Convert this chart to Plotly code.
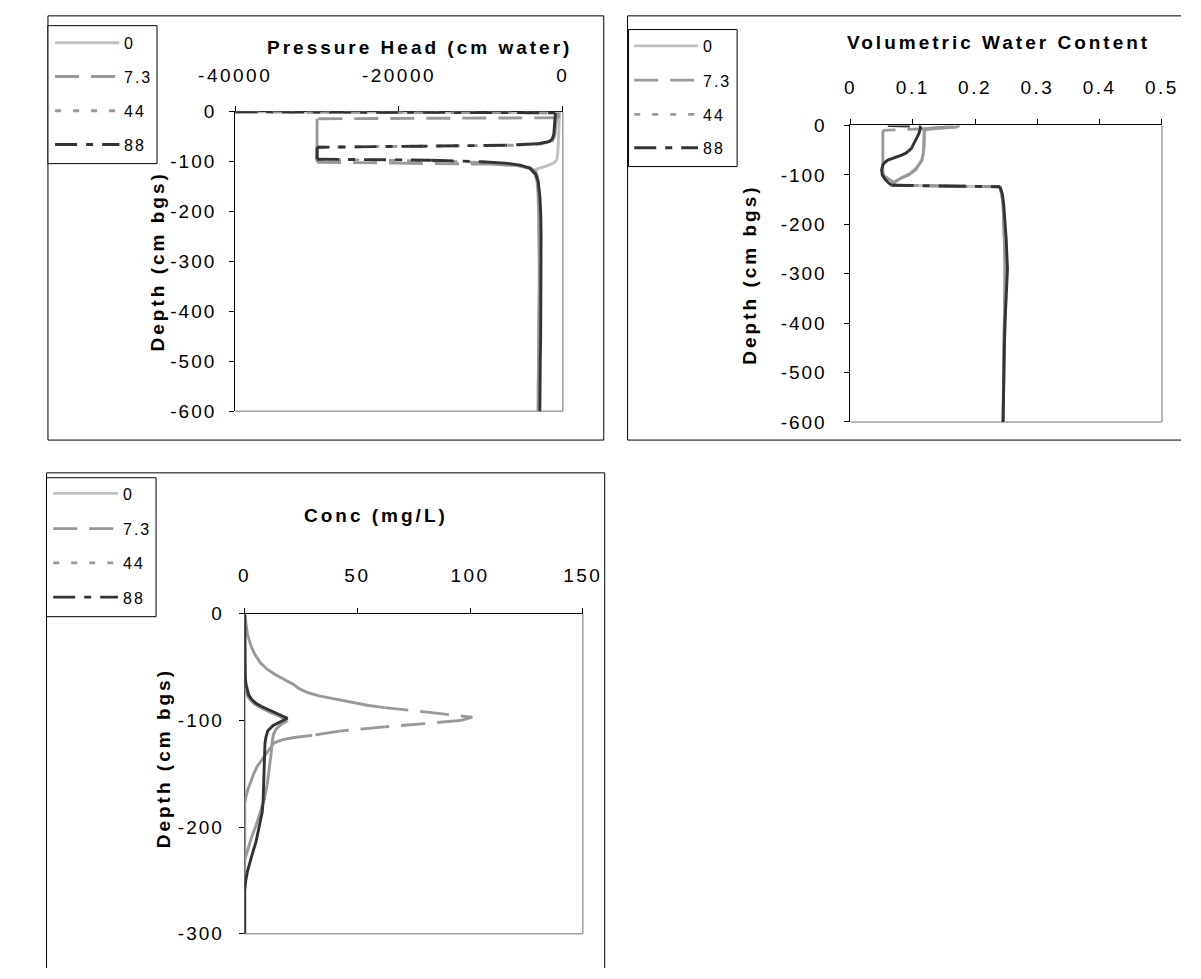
import math
import plotly.graph_objects as go

# ---------------- data ----------------
SERIES = ["0", "7.3", "44", "88"]

# Pressure head (cm water) against depth (cm bgs)
ph_depth_0 = [0, -2, -20, -50, -80, -95, -102, -107, -111, -115, -125, -150, -200, -250, -300, -350, -400, -450, -500, -550, -600]
ph_head_0 = [-40000, -400, -450, -500, -600, -700, -1000, -1700, -2500, -3200, -3300, -3100, -2950, -2900, -2900, -2900, -2900, -2950, -2950, -3000, -3000]

ph_depth_73 = [0, -2, -12, -14, -40, -70, -101, -103, -105, -108, -112, -118, -130, -160, -200, -250, -300, -350, -400, -450, -500, -550, -600]
ph_head_73 = [-40000, -500, -550, -30000, -30000, -30000, -30000, -20000, -9000, -5500, -4000, -3400, -3100, -2950, -2900, -2900, -2850, -2850, -2900, -2900, -2950, -2950, -3000]

ph_depth_44 = [0, -2, -25, -50, -58, -64, -67, -69, -71, -84, -96, -98, -101, -104, -108, -114, -125, -140, -170, -200, -250, -300, -350, -400, -450, -500, -550, -600]
ph_head_44 = [-40000, -700, -850, -1000, -1300, -2500, -6000, -18000, -30000, -30000, -30000, -18000, -11000, -7500, -5500, -4000, -3400, -3100, -2950, -2900, -2850, -2850, -2850, -2900, -2900, -2950, -3000, -3000]

ph_depth_88 = [0, -2, -25, -45, -55, -60, -64, -67, -69, -71, -83, -95, -97, -100, -103, -107, -113, -125, -140, -170, -200, -250, -300, -350, -400, -450, -500, -550, -600]
ph_head_88 = [-40000, -900, -1000, -1100, -1300, -1700, -3000, -7000, -17000, -30000, -30000, -30000, -16000, -10000, -7000, -5200, -4000, -3300, -3000, -2800, -2700, -2650, -2650, -2650, -2700, -2700, -2750, -2800, -2800]

# Volumetric water content against depth (cm bgs)
vwc_depth_0 = [0, -3, -6, -10, -20, -40, -56, -70, -80, -89, -96, -101, -106, -110, -114, -118, -121, -122.5, -124, -140, -160, -190, -230, -260, -290, -320, -360, -400, -450, -500, -550, -600]
vwc_0 = [0.175, 0.170, 0.140, 0.120, 0.119, 0.119, 0.117, 0.114, 0.109, 0.103, 0.096, 0.089, 0.080, 0.074, 0.070, 0.068, 0.068, 0.150, 0.240, 0.243, 0.245, 0.246, 0.247, 0.248, 0.248, 0.248, 0.248, 0.247, 0.246, 0.246, 0.245, 0.245]

vwc_depth_73 = [0, -3, -6, -10, -20, -40, -60, -80, -95, -102, -108, -113, -118, -121, -122.5, -124, -140, -160, -190, -230, -260, -290, -320, -360, -400, -450, -500, -550, -600]
vwc_73 = [0.175, 0.170, 0.130, 0.052, 0.052, 0.052, 0.052, 0.052, 0.052, 0.054, 0.062, 0.067, 0.070, 0.071, 0.150, 0.240, 0.243, 0.245, 0.246, 0.247, 0.248, 0.248, 0.248, 0.248, 0.247, 0.246, 0.246, 0.245, 0.245]

vwc_depth_44 = [0, -3, -6, -10, -20, -40, -56, -70, -80, -89, -96, -101, -106, -110, -114, -118, -121, -122.5, -124, -140, -160, -190, -230, -260, -290, -320, -360, -400, -450, -500, -550, -600]
vwc_44 = [0.165, 0.150, 0.125, 0.118, 0.118, 0.118, 0.117, 0.115, 0.110, 0.105, 0.098, 0.092, 0.082, 0.076, 0.072, 0.070, 0.069, 0.150, 0.240, 0.243, 0.245, 0.246, 0.247, 0.248, 0.249, 0.249, 0.249, 0.248, 0.247, 0.246, 0.245, 0.245]

vwc_depth_88 = [0, -2, -8, -16, -26, -36, -46, -52, -56, -60, -63, -67, -70, -75, -80, -90, -100, -108, -115, -121, -122.5, -124, -140, -160, -190, -230, -260, -290, -320, -360, -400, -450, -500, -550, -600]
vwc_88 = [0.060, 0.113, 0.112, 0.110, 0.106, 0.102, 0.098, 0.093, 0.089, 0.082, 0.075, 0.066, 0.060, 0.055, 0.052, 0.050, 0.051, 0.055, 0.060, 0.066, 0.150, 0.240, 0.244, 0.246, 0.248, 0.250, 0.251, 0.252, 0.251, 0.249, 0.248, 0.247, 0.246, 0.245, 0.245]

# Concentration (mg/L) against depth (cm bgs)
conc_depth_0 = [0, -25, -50, -75, -100, -125, -150, -175, -200, -225, -250, -275, -300]
conc_0 = [0, 0, 0, 0, 0, 0, 0, 0, 0, 0, 0, 0, 0]

conc_depth_73 = [0, -10, -20, -30, -38, -46, -52, -57, -61, -64, -66, -70, -74, -77, -80, -83, -86, -88, -92, -97, -100, -103, -106, -110, -114, -116, -118, -121, -124, -131, -137, -143, -150, -157, -165, -172, -178, -200, -225, -250, -275, -300]
conc_73 = [0, 0.5, 1.3, 2.8, 4.5, 7, 10, 13.5, 17, 20, 21.5, 24, 28, 33, 40, 47, 55, 62, 80, 101, 96, 80, 62, 42, 30, 22, 17, 13, 12, 9.5, 7.5, 5.6, 4.0, 2.7, 1.4, 0.5, 0, 0, 0, 0, 0, 0]

conc_depth_44 = [0, -25, -50, -65, -72, -78, -84, -89, -93, -96, -99, -101, -104, -108, -113, -120, -130, -145, -160, -175, -190, -200, -210, -218, -225, -231, -250, -275, -300]
conc_44 = [0, 0, 0, 0, 0.5, 1.5, 4, 8, 12, 15.5, 17.5, 18.5, 16, 14, 12.8, 12.2, 11.8, 11, 10, 8.6, 6.5, 4.8, 3.0, 1.8, 0.8, 0, 0, 0, 0]

conc_depth_88 = [0, -20, -40, -52, -60, -66, -72, -76, -80, -84, -87, -90, -93, -96, -98, -100, -102, -105, -110, -116, -122, -140, -162, -175, -186, -195, -204, -214, -223, -232, -241, -250, -259, -280, -300]
conc_88 = [0, 0, 0, 0, 0.3, 0.6, 1.2, 1.8, 3, 5, 7.5, 10.5, 13.5, 16.5, 19, 17, 15, 12.5, 10.2, 9.4, 9.0, 8.8, 8.6, 8.2, 7.8, 7.0, 6.2, 5.0, 3.7, 2.5, 1.3, 0.5, 0, 0, 0]

# tick labels
ph_ticks = [-40000, -20000, 0]
ph_tick_text = ["-40000", "-20000", "0"]
vwc_ticks = [0, 0.1, 0.2, 0.3, 0.4, 0.5]
vwc_tick_text = ["0", "0.1", "0.2", "0.3", "0.4", "0.5"]
conc_ticks = [0, 50, 100, 150]
conc_tick_text = ["0", "50", "100", "150"]
depth600_ticks = [0, -100, -200, -300, -400, -500, -600]
depth600_text = ["0", "-100", "-200", "-300", "-400", "-500", "-600"]
depth300_ticks = [0, -100, -200, -300]
depth300_text = ["0", "-100", "-200", "-300"]

# ---------------- styling ----------------
W, H = 1201, 979
FONT = "Liberation Sans, Arial, sans-serif"
LW = 2.9
DASH_MIN_PX = 28  # steps shorter than this render as solid strokes

STYLES = {
    "0": ("#c0c0c0", "solid"),
    "7.3": ("#999999", "24px,12px"),
    "44": ("#999999", "6px,12px"),
    "88": ("#333333", "22px,9px,7px,9px"),
}


def spaced(s, ls=3):
    return f'<span style="letter-spacing:{ls}px">{s}</span>'


def fx(px):
    return px / W


def fy(py):
    return 1 - py / H


# page-pixel geometry of each chart block
panels = [
    dict(xa="x", ya="y", xdom=(208, 552), ydom=(104, 410), xr=[-40000, 0], yr=[-600, 0],
         xt=(ph_ticks, ph_tick_text), yt=(depth600_ticks, depth600_text),
         xstand=16, ystand=9,
         data=[(ph_head_0, ph_depth_0), (ph_head_73, ph_depth_73), (ph_head_44, ph_depth_44), (ph_head_88, ph_depth_88)],
         title=("Pressure Head (cm water)", 402, 38), ytitle=(127, 257),
         frame=[(11.5, 6, 595, 6), (595, 6, 595, 439.5), (11.5, 439.5, 595, 439.5), (11.5, 6, 11.5, 439.5)],
         lbox=(11.5, 16, 126, 157), lrows=[33.5, 68, 103, 137.5], lline=(19, 86.5), ltext=89),
    dict(xa="x2", ya="y2", xdom=(854, 1181), ydom=(118, 421), xr=[0, 0.5], yr=[-600, 0],
         xt=(vwc_ticks, vwc_tick_text), yt=(depth600_ticks, depth600_text),
         xstand=18, ystand=14,
         data=[(vwc_0, vwc_depth_0), (vwc_73, vwc_depth_73), (vwc_44, vwc_depth_44), (vwc_88, vwc_depth_88)],
         title=("Volumetric Water Content", 1009, 33), ytitle=(748, 270),
         frame=[(620, 6, 1201, 6), (620, 439.5, 1201, 439.5), (620, 6, 620, 439.5)],
         lbox=(621, 20, 735, 160), lrows=[36.7, 71.7, 106.7, 140.7], lline=(627, 694), ltext=697),
    dict(xa="x3", ya="y3", xdom=(218, 573), ydom=(617, 944), xr=[0, 150], yr=[-300, 0],
         xt=(conc_ticks, conc_tick_text), yt=(depth300_ticks, depth300_text),
         xstand=18, ystand=11,
         data=[(conc_0, conc_depth_0), (conc_73, conc_depth_73), (conc_44, conc_depth_44), (conc_88, conc_depth_88)],
         title=("Conc (mg/L)", 356, 517), ytitle=(133, 765),
         frame=[(10, 473, 596, 473), (10, 473, 10, 979), (596, 473, 596, 979)],
         lbox=(10, 478, 125, 620), lrows=[494, 530, 565, 600], lline=(17, 85), ltext=88),
]

fig = go.Figure()
layout = dict(width=W, height=H, margin=dict(l=0, r=0, t=0, b=0), autosize=False,
              paper_bgcolor="white", plot_bgcolor="white", showlegend=False,
              shapes=[], annotations=[], hovermode=False)


def add_profile(p, name, xs, ys):
    color, dash = STYLES[name]
    sx = (p["xdom"][1] - p["xdom"][0]) / (p["xr"][1] - p["xr"][0])
    sy = (p["ydom"][1] - p["ydom"][0]) / (p["yr"][1] - p["yr"][0])
    run_x, run_y = [xs[0]], [ys[0]]

    def flush_solid():
        if len(run_x) > 1:
            fig.add_trace(go.Scatter(x=list(run_x), y=list(run_y), mode="lines", name=name,
                                     line=dict(color=color, width=LW, dash="solid"),
                                     xaxis=p["xa"], yaxis=p["ya"], hoverinfo="skip"))

    # long jumps between nodes keep the series dash pattern, short steps read as solid
    for i in range(len(xs) - 1):
        seg = math.hypot((xs[i + 1] - xs[i]) * sx, (ys[i + 1] - ys[i]) * sy)
        if seg > DASH_MIN_PX and dash != "solid":
            flush_solid()
            fig.add_trace(go.Scatter(x=[xs[i], xs[i + 1]], y=[ys[i], ys[i + 1]], mode="lines", name=name,
                                     line=dict(color=color, width=LW, dash=dash),
                                     xaxis=p["xa"], yaxis=p["ya"], hoverinfo="skip"))
            run_x, run_y = [xs[i + 1]], [ys[i + 1]]
        else:
            run_x.append(xs[i + 1])
            run_y.append(ys[i + 1])
    flush_solid()


for k, p in enumerate(panels):
    sfx = "" if k == 0 else str(k + 1)
    for name, (xs, ys) in zip(SERIES, p["data"]):
        add_profile(p, name, xs, ys)

    common = dict(showgrid=False, zeroline=False, showline=True, linecolor="black", linewidth=1,
                  ticks="outside", ticklen=5, tickwidth=1, tickcolor="black",
                  layer="below traces", fixedrange=True, tickmode="array",
                  tickfont=dict(family=FONT, size=19, color="black"))
    layout["xaxis" + sfx] = dict(common, domain=[fx(p["xdom"][0]), fx(p["xdom"][1])],
                                 range=p["xr"], side="top", anchor=p["ya"],
                                 tickvals=p["xt"][0], ticktext=[spaced(t, 2.5) for t in p["xt"][1]],
                                 ticklabelstandoff=p["xstand"])
    layout["yaxis" + sfx] = dict(common, domain=[fy(p["ydom"][1]), fy(p["ydom"][0])],
                                 range=p["yr"], side="left", anchor=p["xa"],
                                 tickvals=p["yt"][0], ticktext=[spaced(t, 2) for t in p["yt"][1]],
                                 ticklabelstandoff=p["ystand"])

    # plot-area border (right and bottom edges)
    for x0, y0, x1, y1 in [(1, 0, 1, 1), (0, 0, 1, 0)]:
        layout["shapes"].append(dict(type="line", xref=p["xa"] + " domain", yref=p["ya"] + " domain",
                                     x0=x0, y0=y0, x1=x1, y1=y1, layer="below",
                                     line=dict(color="#a0a0a0", width=1.5)))
    # chart frame
    for x0, y0, x1, y1 in p["frame"]:
        layout["shapes"].append(dict(type="line", xref="paper", yref="paper", x0=fx(x0), x1=fx(x1),
                                     y0=fy(y0), y1=fy(y1), line=dict(color="black", width=1), layer="below"))

    # legend: framed key with a line sample and label per series
    l, t, r, b = p["lbox"]
    layout["shapes"].append(dict(type="rect", xref="paper", yref="paper", x0=fx(l), x1=fx(r),
                                 y0=fy(b), y1=fy(t), line=dict(color="black", width=1),
                                 fillcolor="white", layer="above"))
    lx0, lx1 = p["lline"]
    for name, ry in zip(SERIES, p["lrows"]):
        color, dash = STYLES[name]
        layout["shapes"].append(dict(type="line", xref="paper", yref="paper", x0=fx(lx0), x1=fx(lx1),
                                     y0=fy(ry), y1=fy(ry), layer="above",
                                     line=dict(color=color, width=LW, dash=dash)))
        layout["annotations"].append(dict(text=spaced(name, 2), x=fx(p["ltext"]), y=fy(ry + 1),
                                          xref="paper", yref="paper", showarrow=False,
                                          xanchor="left", yanchor="middle",
                                          font=dict(family=FONT, size=16, color="black")))

    # titles
    txt, cx, cy = p["title"]
    layout["annotations"].append(dict(text=spaced(txt, 3), x=fx(cx), y=fy(cy), xref="paper", yref="paper",
                                      showarrow=False, xanchor="center", yanchor="middle",
                                      font=dict(family=FONT, size=19, color="black", weight="bold")))
    cx, cy = p["ytitle"]
    layout["annotations"].append(dict(text=spaced("Depth (cm bgs)", 3), x=fx(cx), y=fy(cy), xref="paper",
                                      yref="paper", showarrow=False, xanchor="center", yanchor="middle",
                                      textangle=-90,
                                      font=dict(family=FONT, size=19, color="black", weight="bold")))

fig.update_layout(**layout)
fig.write_html("out.html")
